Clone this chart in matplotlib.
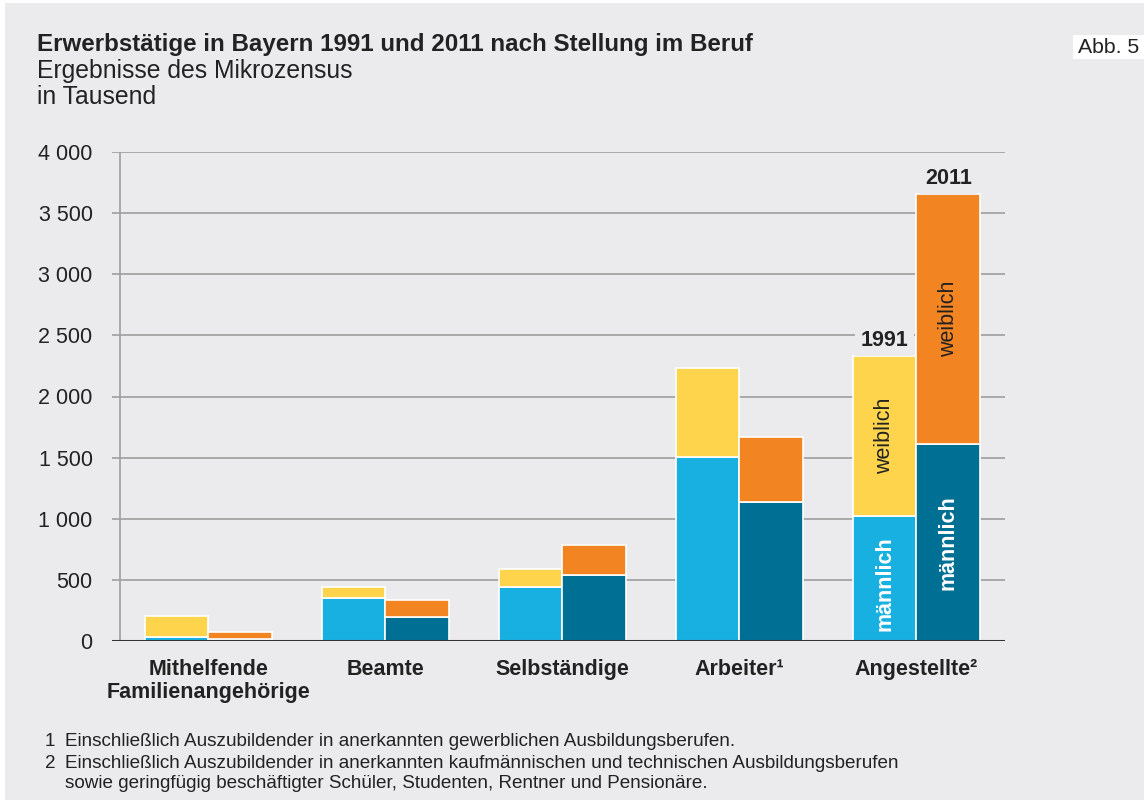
import matplotlib
matplotlib.use("Agg")
import matplotlib.pyplot as plt
from matplotlib.patches import Rectangle
import numpy as np

plt.rcParams['font.family'] = ['Liberation Sans', 'DejaVu Sans']

# data (in Tausend)
categories = ["Mithelfende\nFamilienangehörige", "Beamte", "Selbständige",
              "Arbeiter¹", "Angestellte²"]
maennlich_1991 = [30, 355, 440, 1505, 1025]
weiblich_1991 = [177, 90, 150, 730, 1310]
maennlich_2011 = [20, 200, 540, 1140, 1615]
weiblich_2011 = [57, 135, 245, 530, 2040]
y_ticks = [0, 500, 1000, 1500, 2000, 2500, 3000, 3500, 4000]
y_ticklabels = ["0", "500", "1 000", "1 500", "2 000", "2 500", "3 000", "3 500", "4 000"]

footnotes = [
    ("1", ["Einschließlich Auszubildender in anerkannten gewerblichen Ausbildungsberufen."]),
    ("2", ["Einschließlich Auszubildender in anerkannten kaufmännischen und technischen Ausbildungsberufen",
           "sowie geringfügig beschäftigter Schüler, Studenten, Rentner und Pensionäre."]),
]

# colours
bg = "#ebebed"
c_m91 = "#17b0e0"
c_w91 = "#fdd44c"
c_m11 = "#006f94"
c_w11 = "#f28422"
txt = "#222222"
grid_c = "#a3a3a3"

W, H = 1144, 800
fig = plt.figure(figsize=(W / 100, H / 100), dpi=100, facecolor="white")

# grey panel behind everything
fig.patches.append(Rectangle((5 / W, 0), 1, 797 / H, transform=fig.transFigure,
                             facecolor=bg, edgecolor="none", zorder=-10))

ax = fig.add_axes([112 / W, 1 - 641 / H, (1005 - 112) / W, (641 - 152) / H])
ax.set_facecolor(bg)
ax.patch.set_alpha(0)

x = np.arange(len(categories))
bw = 0.36
off = 0.18

ax.bar(x - off, maennlich_1991, bw, color=c_m91, edgecolor="white", linewidth=1.2, zorder=3)
ax.bar(x - off, weiblich_1991, bw, bottom=maennlich_1991, color=c_w91,
       edgecolor="white", linewidth=1.2, zorder=3)
ax.bar(x + off, maennlich_2011, bw, color=c_m11, edgecolor="white", linewidth=1.2, zorder=3)
ax.bar(x + off, weiblich_2011, bw, bottom=maennlich_2011, color=c_w11,
       edgecolor="white", linewidth=1.2, zorder=3)

ax.set_xlim(-0.545, 4.5)
ax.set_ylim(0, 4000)

for yv in y_ticks[1:]:
    ax.axhline(yv, color=grid_c, lw=1.3, zorder=1)
ax.axvline(-0.5, color=grid_c, lw=1.3, zorder=1)
ax.axhline(0, color="#333333", lw=2.2, zorder=4)

for s in ax.spines.values():
    s.set_visible(False)

ax.set_yticks(y_ticks)
ax.set_yticklabels(y_ticklabels, fontsize=15.5, color=txt)
ax.tick_params(axis="y", length=0, pad=14)
ax.set_xticks(x)
ax.set_xticklabels(categories, fontsize=15.5, fontweight="bold", color=txt, linespacing=1.15)
ax.tick_params(axis="x", length=0, pad=13)

# labels inside the Angestellte bars
i = 4
ax.text(i - off, maennlich_1991[i] / 2 - 40, "männlich", rotation=90, ha="center", va="center",
        color="white", fontsize=15.5, fontweight="bold", zorder=5)
ax.text(i + off, maennlich_2011[i] / 2, "männlich", rotation=90, ha="center", va="center",
        color="white", fontsize=15.5, fontweight="bold", zorder=5)
ax.text(i - off, maennlich_1991[i] + weiblich_1991[i] / 2, "weiblich", rotation=90,
        ha="center", va="center", color=txt, fontsize=15.5, zorder=5)
ax.text(i + off, maennlich_2011[i] + weiblich_2011[i] / 2, "weiblich", rotation=90,
        ha="center", va="center", color=txt, fontsize=15.5, zorder=5)

# year labels
ax.annotate("1991", (i - off, maennlich_1991[i] + weiblich_1991[i]), xytext=(0, 7),
            textcoords="offset points", ha="center", va="baseline", fontsize=15.5,
            fontweight="bold", color=txt, zorder=5,
            bbox=dict(boxstyle="square,pad=0.25", facecolor=bg, edgecolor="none"))
ax.annotate("2011", (i + off, maennlich_2011[i] + weiblich_2011[i]), xytext=(0, 7),
            textcoords="offset points", ha="center", va="baseline", fontsize=15.5,
            fontweight="bold", color=txt, zorder=5,
            bbox=dict(boxstyle="square,pad=0.25", facecolor=bg, edgecolor="none"))

# headings
fig.text(37 / W, 1 - 51 / H, "Erwerbstätige in Bayern 1991 und 2011 nach Stellung im Beruf",
         fontsize=17.4, fontweight="bold", color=txt, va="baseline")
fig.text(37 / W, 1 - 78 / H, "Ergebnisse des Mikrozensus", fontsize=17.8, color=txt, va="baseline")
fig.text(37 / W, 1 - 104 / H, "in Tausend", fontsize=17.8, color=txt, va="baseline")

fig.patches.append(Rectangle((1073 / W, 1 - 59 / H), 71 / W, 24 / H, transform=fig.transFigure,
                             facecolor="white", edgecolor="none", zorder=-5))
fig.text(1078 / W, 1 - 53 / H, "Abb. 5", fontsize=15.3, color=txt, va="baseline")

# footnotes
yy = 746
for num, lines in footnotes:
    fig.text(45 / W, 1 - yy / H, num, fontsize=13.6, color=txt, va="baseline")
    for line in lines:
        fig.text(65 / W, 1 - yy / H, line, fontsize=13.6, color=txt, va="baseline")
        yy += 20
    yy += 2

fig.savefig("out.png", dpi=100, facecolor="white")
